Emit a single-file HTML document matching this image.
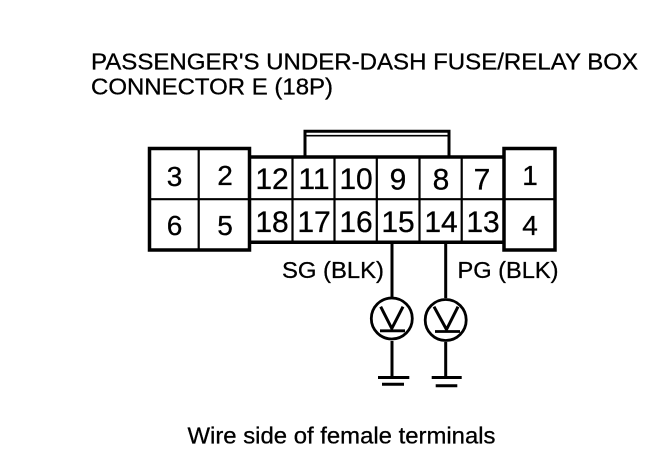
<!DOCTYPE html>
<html>
<head>
<meta charset="utf-8">
<style>
html,body{margin:0;padding:0;background:#fff;width:672px;height:452px;overflow:hidden}
svg{display:block}
text{font-family:"Liberation Sans",sans-serif;fill:#000;stroke:#000;stroke-width:.3px}
.n{font-size:30px;text-anchor:middle}
.o{font-size:28px;text-anchor:middle}
.l{font-size:23px}
</style>
</head>
<body>
<svg width="672" height="452" viewBox="0 0 672 452" xmlns="http://www.w3.org/2000/svg">
<rect width="672" height="452" fill="#fff"/>
<g fill="none" stroke="#000">
  <!-- tab -->
  <path d="M305 157V131.200H449V157" stroke-width="3"/>
  <path d="M306 135.700H448" stroke-width="1.700"/>
  <!-- center body -->
  <path d="M249 157H504M249 242.200H504" stroke-width="3.500"/>
  <path d="M249 199.200H504M292.500 157V241M334.500 157V241M376.800 157V241M419.500 157V241M461.700 157V241" stroke-width="2.200"/>
  <!-- left box -->
  <rect x="149.500" y="148.500" width="100" height="101.500" stroke-width="3.500"/>
  <path d="M149 199.200H249M198.700 149V249" stroke-width="2.200"/>
  <!-- right box -->
  <rect x="504" y="148.500" width="51" height="101.500" stroke-width="3.500"/>
  <path d="M504 199.200H555" stroke-width="2.200"/>
  <!-- wires -->
  <path d="M392 243V297M392 341V377M445.700 243V298M445.700 342V377" stroke-width="3"/>
  <!-- meters -->
  <circle cx="391.800" cy="318.500" r="20.500" stroke-width="2.800"/>
  <circle cx="445.700" cy="320" r="20.500" stroke-width="2.800"/>
  <path d="M380.700 306.700L391.800 328.500L403 306.700" stroke-width="3"/>
  <path d="M380 330.800H405" stroke-width="2.800"/>
  <path d="M434 306.700L446.500 329.500L458 306.700" stroke-width="3"/>
  <path d="M435 331.500H460" stroke-width="2.800"/>
  <!-- grounds -->
  <path d="M378 377.500H409.300M382 384.300H404" stroke-width="3"/>
  <path d="M431.700 377.500H461.700M435.700 385.700H457.300" stroke-width="3"/>
</g>
<text class="l" x="91" y="69.700" textLength="547" lengthAdjust="spacingAndGlyphs">PASSENGER'S UNDER-DASH FUSE/RELAY BOX</text>
<text class="l" x="91" y="94.300" textLength="242" lengthAdjust="spacingAndGlyphs">CONNECTOR E (18P)</text>
<text class="o" x="174.500" y="186">3</text>
<text class="o" x="225" y="185">2</text>
<text class="o" x="174.500" y="235">6</text>
<text class="o" x="225" y="235">5</text>
<text class="n" x="272" y="189">12</text>
<text class="n" x="314" y="189">11</text>
<text class="n" x="356" y="189">10</text>
<text class="n" x="398" y="189.500">9</text>
<text class="n" x="441" y="189.500">8</text>
<text class="n" x="482" y="189.500">7</text>
<text class="n" x="272" y="232">18</text>
<text class="n" x="314" y="232">17</text>
<text class="n" x="356" y="232">16</text>
<text class="n" x="398" y="232">15</text>
<text class="n" x="441" y="232">14</text>
<text class="n" x="483" y="232">13</text>
<text class="o" x="530" y="185">1</text>
<text class="o" x="530" y="235">4</text>
<text class="l" x="282" y="278" textLength="102" lengthAdjust="spacingAndGlyphs">SG (BLK)</text>
<text class="l" x="457.500" y="278" textLength="101" lengthAdjust="spacingAndGlyphs">PG (BLK)</text>
<text class="l" x="187.500" y="443.300" textLength="308" lengthAdjust="spacingAndGlyphs">Wire side of female terminals</text>
</svg>
</body>
</html>
